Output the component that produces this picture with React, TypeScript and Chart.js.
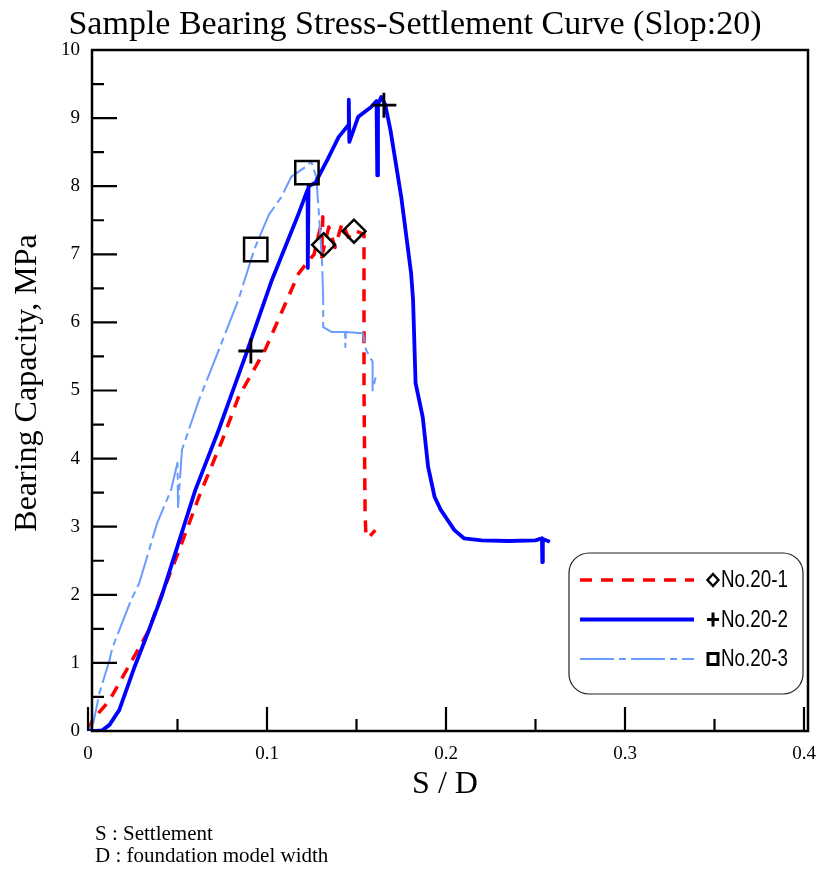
import React, { useEffect, useRef } from 'react';
import { Chart, registerables } from 'chart.js';

Chart.register(...registerables);

// ---------- data ----------
const seriesNames = ['No.20-1', 'No.20-2', 'No.20-3'];

const s1X = [0, 0.0025, 0.012, 0.021, 0.030, 0.034, 0.040, 0.051, 0.062, 0.075, 0.084, 0.099, 0.1177, 0.1222, 0.1263, 0.1312, 0.1305, 0.1345, 0.138, 0.142, 0.1455, 0.149, 0.1525, 0.1542, 0.1542, 0.1548, 0.1553, 0.1575, 0.1605];
const s1Y = [0, 0.16, 0.45, 0.87, 1.29, 1.48, 1.92, 2.66, 3.44, 4.27, 4.9, 5.6, 6.72, 6.87, 7.0, 7.55, 6.96, 7.4, 7.1, 7.46, 7.25, 7.35, 7.31, 7.3, 5.0, 3.2, 2.85, 2.86, 2.95];

const s2X = [0, 0.004, 0.008, 0.012, 0.0175, 0.026, 0.034, 0.041, 0.060, 0.073, 0.0885, 0.1027, 0.1177, 0.1227, 0.1228, 0.1232, 0.127, 0.134, 0.140, 0.1455, 0.1457, 0.146, 0.151, 0.158, 0.1612, 0.1616, 0.162, 0.1638, 0.166, 0.169, 0.175, 0.1805, 0.1816, 0.183, 0.187, 0.190, 0.1936, 0.197, 0.2047, 0.210, 0.220, 0.235, 0.250, 0.2536, 0.2538, 0.2541, 0.258];
const s2Y = [0, 0.0, 0.01, 0.09, 0.31, 0.94, 1.48, 1.97, 3.54, 4.42, 5.55, 6.62, 7.6, 7.95, 6.8, 8.0, 8.05, 8.4, 8.72, 8.9, 9.27, 8.65, 9.02, 9.16, 9.25, 8.16, 9.2, 9.31, 9.2, 8.82, 7.84, 6.72, 6.33, 5.11, 4.61, 3.88, 3.44, 3.25, 2.95, 2.83, 2.8, 2.79, 2.8, 2.83, 2.48, 2.82, 2.78];

const s3X = [0, 0.003, 0.0064, 0.012, 0.0136, 0.024, 0.0286, 0.0386, 0.0464, 0.050, 0.0503, 0.0525, 0.062, 0.073, 0.084, 0.093, 0.101, 0.108, 0.1136, 0.1214, 0.1247, 0.1275, 0.129, 0.1308, 0.1314, 0.1314, 0.136, 0.1436, 0.1438, 0.144, 0.1536, 0.1553, 0.159, 0.159, 0.161];
const s3Y = [0, 0.12, 0.56, 1.04, 1.22, 1.92, 2.17, 3.05, 3.54, 3.94, 3.29, 4.13, 4.86, 5.59, 6.33, 7.08, 7.58, 7.84, 8.14, 8.28, 8.36, 8.14, 7.6, 6.87, 6.33, 5.93, 5.86, 5.86, 5.64, 5.86, 5.84, 5.6, 5.42, 5.0, 5.23];

const m1X = [0.1316, 0.1486];
const m1Y = [7.14, 7.34];
const m2X = [0.091, 0.1653];
const m2Y = [5.58, 9.19];
const m3X = [0.0937, 0.1223];
const m3Y = [7.07, 8.2];

const xMajorTicks = [0, 0.1, 0.2, 0.3, 0.4];
const xTickLabels = ['0', '0.1', '0.2', '0.3', '0.4'];
const xMinorTicks = [0.05, 0.15, 0.25, 0.35];
const yMajorTicks = [0, 1, 2, 3, 4, 5, 6, 7, 8, 9, 10];
const yTickLabels = ['0', '1', '2', '3', '4', '5', '6', '7', '8', '9', '10'];
const yMinorTicks = [0.5, 1.5, 2.5, 3.5, 4.5, 5.5, 6.5, 7.5, 8.5, 9.5];

const chartTitle = 'Sample Bearing Stress-Settlement Curve (Slop:20)';
const xTitle = 'S / D';
const yTitle = 'Bearing Capacity, MPa';
const notes = ['S : Settlement', 'D : foundation model width'];

const colors = ['#ff0000', '#0000ff', '#6a9bff'];
const dashes: number[][] = [[12, 9], [], [34, 5, 7, 5]];
const widths = [3.5, 3.8, 2];
const markerStyles = ['rectRot', 'cross', 'rect'];

const toPts = (xs: number[], ys: number[]) => xs.map((x, i) => ({ x, y: ys[i] }));

const SERIF = '"Liberation Serif", "Times New Roman", serif';
const SANS = '"Liberation Sans", Arial, sans-serif';

const decor = {
  id: 'decor',
  afterDraw(chart: any) {
    const ctx: CanvasRenderingContext2D = chart.ctx;
    const xs = chart.scales.x;
    const ys = chart.scales.y;
    const a = chart.chartArea;
    const off = 4;
    ctx.save();
    // frame
    ctx.strokeStyle = '#000';
    ctx.lineWidth = 2.5;
    ctx.beginPath();
    ctx.rect(a.left + off, a.top, a.right - a.left, a.bottom - a.top);
    ctx.stroke();
    // ticks (inward)
    ctx.lineWidth = 2.2;
    ctx.beginPath();
    yMajorTicks.forEach((v) => {
      const p = ys.getPixelForValue(v);
      ctx.moveTo(a.left + off, p);
      ctx.lineTo(a.left + off + 25, p);
    });
    yMinorTicks.forEach((v) => {
      const p = ys.getPixelForValue(v);
      ctx.moveTo(a.left + off, p);
      ctx.lineTo(a.left + off + 12, p);
    });
    xMajorTicks.forEach((v) => {
      const p = xs.getPixelForValue(v);
      ctx.moveTo(p, a.bottom);
      ctx.lineTo(p, a.bottom - 24);
    });
    xMinorTicks.forEach((v) => {
      const p = xs.getPixelForValue(v);
      ctx.moveTo(p, a.bottom);
      ctx.lineTo(p, a.bottom - 12);
    });
    ctx.stroke();

    // tick labels
    ctx.fillStyle = '#000';
    ctx.font = `19px ${SERIF}`;
    ctx.textAlign = 'right';
    ctx.textBaseline = 'middle';
    yMajorTicks.forEach((v, i) => {
      ctx.fillText(yTickLabels[i], a.left - 8, ys.getPixelForValue(v));
    });
    ctx.textAlign = 'center';
    ctx.textBaseline = 'alphabetic';
    xMajorTicks.forEach((v, i) => {
      ctx.fillText(xTickLabels[i], xs.getPixelForValue(v), a.bottom + 28);
    });

    // titles
    ctx.font = `34px ${SERIF}`;
    ctx.fillText(chartTitle, 415, 34);
    ctx.font = `32px ${SERIF}`;
    ctx.fillText(xTitle, 445, a.bottom + 62);
    ctx.save();
    ctx.translate(36, 383);
    ctx.rotate(-Math.PI / 2);
    ctx.textAlign = 'center';
    ctx.fillText(yTitle, 0, 0);
    ctx.restore();

    // notes
    ctx.font = `21px ${SERIF}`;
    ctx.textAlign = 'left';
    ctx.fillText(notes[0], 95, 840);
    ctx.fillText(notes[1], 95, 862);

    // legend
    const lx = 569, ly = 553, lw = 234, lh = 141, r = 20;
    ctx.lineWidth = 1.2;
    ctx.strokeStyle = '#222';
    ctx.fillStyle = '#fff';
    ctx.beginPath();
    ctx.moveTo(lx + r, ly);
    ctx.arcTo(lx + lw, ly, lx + lw, ly + lh, r);
    ctx.arcTo(lx + lw, ly + lh, lx, ly + lh, r);
    ctx.arcTo(lx, ly + lh, lx, ly, r);
    ctx.arcTo(lx, ly, lx + lw, ly, r);
    ctx.closePath();
    ctx.fill();
    ctx.stroke();

    seriesNames.forEach((name, i) => {
      const y = 580 + i * 39.5;
      ctx.save();
      ctx.strokeStyle = colors[i];
      ctx.lineWidth = widths[i];
      ctx.setLineDash(dashes[i]);
      ctx.beginPath();
      ctx.moveTo(580, y);
      ctx.lineTo(694, y);
      ctx.stroke();
      ctx.restore();
      // symbol
      ctx.save();
      ctx.strokeStyle = '#000';
      ctx.fillStyle = '#000';
      const cx = 713;
      if (i === 0) {
        ctx.lineWidth = 2.4;
        ctx.beginPath();
        ctx.moveTo(cx, y - 6);
        ctx.lineTo(cx + 5.5, y);
        ctx.lineTo(cx, y + 6);
        ctx.lineTo(cx - 5.5, y);
        ctx.closePath();
        ctx.stroke();
      } else if (i === 1) {
        ctx.lineWidth = 3;
        ctx.beginPath();
        ctx.moveTo(cx - 6, y);
        ctx.lineTo(cx + 6, y);
        ctx.moveTo(cx, y - 7);
        ctx.lineTo(cx, y + 7);
        ctx.stroke();
      } else {
        ctx.lineWidth = 3;
        ctx.strokeRect(cx - 5, y - 5.5, 10, 11);
      }
      ctx.restore();
      ctx.font = `23px ${SANS}`;
      ctx.fillStyle = '#000';
      ctx.textAlign = 'left';
      ctx.textBaseline = 'middle';
      ctx.fillText(name, 721, y + 1, 67);
    });
    ctx.restore();
  },
};

export default function App() {
  const ref = useRef<HTMLCanvasElement>(null);
  useEffect(() => {
    if (!ref.current) return;
    const lineSets = [toPts(s1X, s1Y), toPts(s2X, s2Y), toPts(s3X, s3Y)];
    const markSets = [toPts(m1X, m1Y), toPts(m2X, m2Y), toPts(m3X, m3Y)];
    const lineOrder = [3, 1, 2];
    const datasets: any[] = [];
    lineSets.forEach((d, i) => {
      datasets.push({
        label: seriesNames[i],
        data: d,
        borderColor: colors[i],
        borderWidth: widths[i],
        borderDash: dashes[i],
        borderJoinStyle: 'round',
        pointRadius: 0,
        tension: 0,
        fill: false,
        order: lineOrder[i],
      });
    });
    const radii = [11.5, 12.5, 16.5];
    markSets.forEach((d, i) => {
      datasets.push({
        label: seriesNames[i] + ' marker',
        data: d,
        showLine: false,
        pointStyle: markerStyles[i],
        pointRadius: radii[i],
        pointBorderColor: '#000',
        pointBackgroundColor: 'rgba(0,0,0,0)',
        pointBorderWidth: i === 1 ? 2.8 : 2.5,
        order: 0,
      });
    });
    const chart = new Chart(ref.current, {
      type: 'line',
      data: { datasets },
      options: {
        responsive: false,
        animation: false,
        parsing: true,
        layout: { padding: { left: 88, right: 14, top: 50, bottom: 139 } },
        plugins: { legend: { display: false }, title: { display: false }, tooltip: { enabled: false } },
        scales: {
          x: { type: 'linear', min: 0, max: 0.4, display: false },
          y: { type: 'linear', min: 0, max: 10, display: false },
        },
        events: [],
      },
      plugins: [decor],
    });
    return () => chart.destroy();
  }, []);
  return (
    <div style={{ position: 'absolute', left: 0, top: 0, width: 823, height: 870, background: '#fff' }}>
      <canvas ref={ref} width={823} height={870} style={{ width: 823, height: 870 }} />
    </div>
  );
}
